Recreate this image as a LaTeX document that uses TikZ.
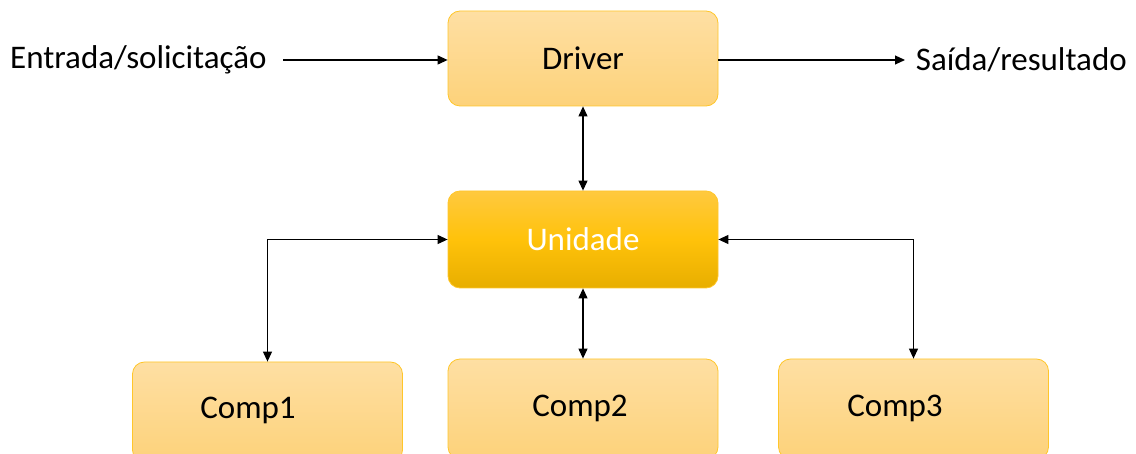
\documentclass[tikz,border=0pt]{standalone}
\usepackage{fontspec}
\setmainfont{Carlito}
\usetikzlibrary{arrows.meta}
\definecolor{lighttop}{HTML}{FEDFA3}
\definecolor{lightbot}{HTML}{FDD27A}
\definecolor{edgec}{HTML}{FFC62A}
\definecolor{unitop}{HTML}{FFC93F}
\definecolor{unimid}{HTML}{FFC20A}
\definecolor{unibot}{HTML}{E8AE00}
\tikzset{
  lightbox/.style={draw=edgec, line width=0.8pt, rounded corners=12pt, top color=lighttop, bottom color=lightbot, minimum width=270pt, minimum height=95pt, inner sep=0pt},
  unibox/.style={draw=edgec, line width=0.8pt, rounded corners=12pt, top color=unitop, bottom color=unibot, middle color=unimid, minimum width=270pt, minimum height=97pt, inner sep=0pt, text=white},
  conn/.style={line width=1.1pt, -{Triangle[length=10pt,width=9pt]}},
  dconn/.style={line width=1.1pt, {Triangle[length=10pt,width=9pt]}-{Triangle[length=10pt,width=9pt]}},
  lbl/.style={font=\fontsize{33}{38}\selectfont, inner sep=0pt}
}
\begin{document}
\begin{tikzpicture}[x=1pt,y=-1pt]
\useasboundingbox (0,0) rectangle (1136,454);
\node[lightbox, lbl] (driver) at (583,58.5) {Driver};
\node[unibox, lbl] (unidade) at (583,239.5) {Unidade};
\begin{scope}
\clip (0,0) rectangle (1136,454);
\node[lightbox, minimum height=100pt] (comp1) at (267.5,412) {};
\node[lightbox, minimum height=100pt] (comp2) at (583,409) {};
\node[lightbox, minimum height=100pt] (comp3) at (913.5,409) {};
\end{scope}
\node[lbl] (c1t) at (248,410) {Comp1};
\node[lbl] (c2t) at (580,408) {Comp2};
\node[lbl] (c3t) at (895,408) {Comp3};
\node[lbl, anchor=west] (in) at (10,60) {Entrada/solicitação};
\node[lbl, anchor=east] (out) at (1127,60) {Saída/resultado};
\coordinate (inend) at (283,60);
\coordinate (outend) at (905,60);
\draw[conn] (inend) -- (driver.west |- inend);
\draw[conn] (driver.east |- outend) -- (outend);
\draw[dconn] (driver.south) -- (unidade.north);
\draw[dconn] (unidade.south) -- (comp2.north);
\draw[dconn] (comp1.north) |- (unidade.west);
\draw[dconn] (comp3.north) |- (unidade.east);
\end{tikzpicture}
\end{document}
